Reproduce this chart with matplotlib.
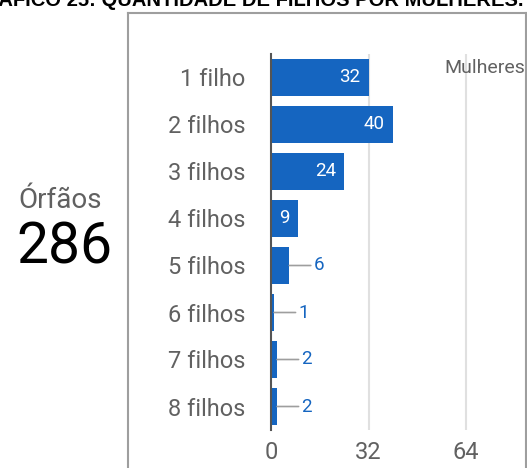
import matplotlib
matplotlib.use("Agg")
import matplotlib.pyplot as plt
from matplotlib.lines import Line2D

categories = ["1 filho", "2 filhos", "3 filhos", "4 filhos", "5 filhos", "6 filhos", "7 filhos", "8 filhos"]
values = [32, 40, 24, 9, 6, 1, 2, 2]
xticks = [0, 32, 64]
series_name = "Mulheres"
kpi_label = "Órfãos"
kpi_value = "286"
title = "GRÁFICO 25: QUANTIDADE DE FILHOS POR MULHERES."

W, H = 527, 468
BLUE = "#1565c0"
GRAY_TXT = "#616161"

plt.rcParams['font.family'] = ['Roboto', 'DejaVu Sans']

fig = plt.figure(figsize=(W / 100, H / 100), dpi=100)

def fx(px):
    return px / W

def fy(py):
    return 1 - py / H

# axes
ax_left, ax_top, ax_right, ax_bottom = 271, 54, 527, 430
ax = fig.add_axes([fx(ax_left), fy(ax_bottom), fx(ax_right - ax_left), (ax_bottom - ax_top) / H])
px_per_unit = 97.5 / 32
ax.set_xlim(0, (ax_right - ax_left) / px_per_unit)
ypos = list(range(len(categories)))
ax.set_ylim(len(categories) - 0.5, -0.5)

ax.barh(ypos, values, height=0.8, color=BLUE, zorder=3)

ax.set_xticks(xticks)
ax.set_xticklabels([str(t) for t in xticks])
ax.set_yticks(ypos)
ax.set_yticklabels(categories)
ax.tick_params(axis='x', length=0, pad=8, labelsize=17, labelcolor=GRAY_TXT)
ax.tick_params(axis='y', length=0, pad=18.5, labelsize=17, labelcolor=GRAY_TXT)
for t in xticks[1:]:
    ax.axvline(t, color="#e0e0e0", lw=1.5, zorder=1)
for s in ["top", "right", "bottom"]:
    ax.spines[s].set_visible(False)
ax.spines["left"].set_color("#555555")
ax.spines["left"].set_linewidth(1.5)
ax.spines["left"].set_zorder(4)
ax.patch.set_alpha(0)

for i, v in enumerate(values):
    if v >= 9:
        ax.annotate(str(v), xy=(v, i), xytext=(-6, 0), textcoords="offset points",
                    ha="right", va="center", color="white", fontsize=13.5, zorder=5)
    else:
        ax.annotate(str(v), xy=(v, i), xytext=(17.5, 0), textcoords="offset points",
                    ha="left", va="center", color=BLUE, fontsize=13.5, zorder=5,
                    arrowprops=dict(arrowstyle="-", color="#9e9e9e", lw=1.2,
                                    shrinkA=0, shrinkB=0, relpos=(0, 0.5)))

# legend text
fig.text(fx(525), fy(68), series_name, ha="right", va="center", fontsize=14, color=GRAY_TXT)

# KPI
fig.text(fx(60), fy(200), kpi_label, ha="center", va="center", fontsize=20, color=GRAY_TXT)
fig.text(fx(64), fy(248), kpi_value, ha="center", va="center", fontsize=41, color="black")

# outer box
bc = "#9e9e9e"
fig.add_artist(Line2D([fx(128), fx(128)], [fy(13), 0], transform=fig.transFigure, color=bc, lw=1.5))
fig.add_artist(Line2D([fx(128), fx(526)], [fy(13), fy(13)], transform=fig.transFigure, color=bc, lw=1.5))
fig.add_artist(Line2D([fx(526), fx(526)], [fy(13), 0], transform=fig.transFigure, color=bc, lw=1.5))

# title: size chosen so visible part fits
renderer = fig.canvas.get_renderer()
probe = fig.text(0, 0, title[2:], fontsize=10, fontweight="bold", family=["Liberation Sans", "DejaVu Sans"])
w10 = probe.get_window_extent(renderer=renderer).width
probe.remove()
tsize = 10 * 523 / w10
fig.text(fx(523), fy(6), title, ha="right", va="baseline", fontsize=tsize, fontweight="bold",
         family=["Liberation Sans", "DejaVu Sans"], color="black")

fig.savefig("out.png", dpi=100)
